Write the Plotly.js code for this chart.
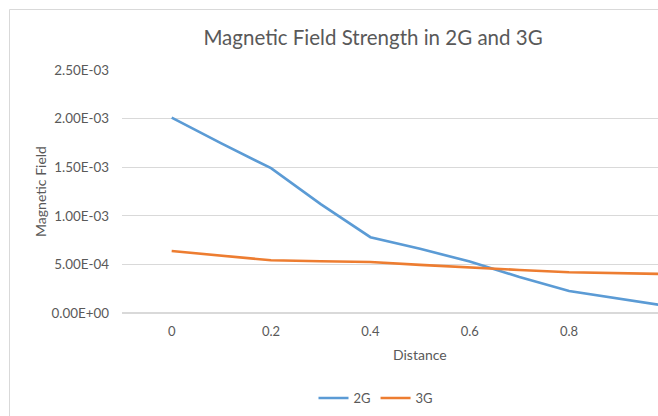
<!DOCTYPE html>
<html><head><meta charset="utf-8">
<script src="https://cdn.plot.ly/plotly-3.0.1.min.js"></script>
<style>html,body{margin:0;padding:0;background:#fff;overflow:hidden}</style>
</head><body><div id="chart" style="width:658px;height:416px"></div>
<script>
const distance = [0, 0.1, 0.2, 0.3, 0.4, 0.5, 0.6, 0.7, 0.8, 0.9, 1.0];
const field2G = [2.01e-3, 1.745e-3, 1.49e-3, 1.12e-3, 0.78e-3, 0.66e-3, 0.53e-3, 0.37e-3, 0.226e-3, 0.15e-3, 0.07e-3];
const field3G = [0.638e-3, 0.59e-3, 0.542e-3, 0.533e-3, 0.525e-3, 0.495e-3, 0.466e-3, 0.443e-3, 0.42e-3, 0.41e-3, 0.40e-3];
const yTickVals = [0, 5e-4, 1e-3, 1.5e-3, 2e-3, 2.5e-3];
const yTickText = ["0.00E+00", "5.00E-04", "1.00E-03", "1.50E-03", "2.00E-03", "2.50E-03"];
const xTickVals = [0, 0.2, 0.4, 0.6, 0.8];
const xTickText = ["0", "0.2", "0.4", "0.6", "0.8"];

const FONT = "Lato, 'Open Sans', sans-serif";
const GREY = "#595959";

const traces = [
  {x: distance, y: field2G, name: "2G", type: "scatter", mode: "lines",
   line: {color: "#5B9BD5", width: 2.6}},
  {x: distance, y: field3G, name: "3G", type: "scatter", mode: "lines",
   line: {color: "#ED7D31", width: 2.6}}
];

const layout = {
  width: 658, height: 416,
  margin: {l: 122, r: 0, t: 70, b: 103},
  paper_bgcolor: "#fff", plot_bgcolor: "#fff",
  font: {family: FONT, color: GREY, size: 13},
  title: {text: "Magnetic Field Strength in 2G and 3G",
          font: {family: FONT, size: 20.5, color: GREY},
          xref: "container", x: 373/658, xanchor: "center",
          yref: "container", y: 1 - 38/416, yanchor: "middle"},
  xaxis: {range: [-0.1, 0.979], tickvals: xTickVals, ticktext: xTickText,
          showgrid: false, zeroline: false, showline: false, ticks: "",
          ticklabelstandoff: 9,
          tickfont: {size: 13, color: GREY}, fixedrange: true},
  yaxis: {range: [0, 2.5e-3], tickvals: yTickVals, ticktext: yTickText,
          showgrid: true, gridcolor: "#d9d9d9", gridwidth: 1,
          zeroline: true, zerolinecolor: "#d9d9d9", zerolinewidth: 1.5,
          showline: false, ticks: "", ticklabelstandoff: 12,
          tickfont: {size: 13.4, color: GREY},
          title: {text: "Magnetic Field", font: {size: 14, color: GREY}, standoff: 1},
          automargin: false, fixedrange: true},
  showlegend: true,
  legend: {orientation: "h", x: (376-122)/536, xanchor: "center",
           y: -(398-313)/243, yanchor: "middle", itemwidth: 30,
           font: {size: 13, color: GREY}, bgcolor: "rgba(0,0,0,0)"},
  annotations: [
    {text: "Distance", xref: "paper", yref: "paper",
     x: (420-122)/536, y: -(354-313)/243, xanchor: "center", yanchor: "middle",
     showarrow: false, font: {size: 14, color: GREY}}
  ],
  shapes: [
    {type: "rect", xref: "paper", yref: "paper",
     x0: (9.5-122)/536, x1: 1.2, y0: -0.6, y1: 1 + (70-9.5)/243,
     line: {color: "#d9d9d9", width: 1}, fillcolor: "rgba(0,0,0,0)", layer: "below"}
  ]
};

Plotly.newPlot("chart", traces, layout, {displayModeBar: false, staticPlot: true});
</script>
</body></html>
